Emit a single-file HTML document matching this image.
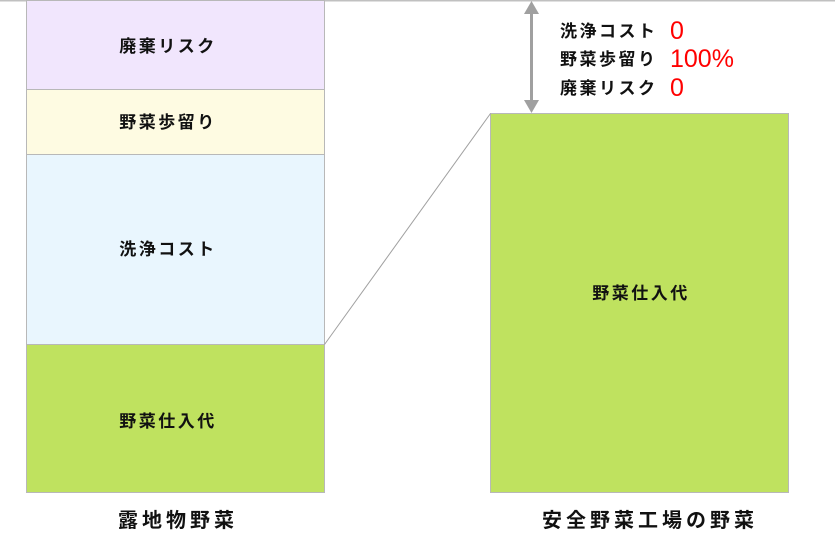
<!DOCTYPE html>
<html><head><meta charset="utf-8"><style>
html,body{margin:0;padding:0;background:#fff}
svg{display:block}
text{font-family:"Liberation Sans","Noto Sans CJK JP",sans-serif;font-weight:bold}
text.r{font-weight:normal}
</style></head><body>
<svg width="835" height="536" viewBox="0 0 835 536" xmlns="http://www.w3.org/2000/svg">
<line x1="0" y1="0.5" x2="835" y2="0.5" stroke="#c0c0c0" stroke-width="2"/>
<rect x="26.5" y="0.5" width="298" height="89" fill="#f1e6fd" stroke="#b8b8b8"/>
<rect x="26.5" y="89.5" width="298" height="65" fill="#fefbe2" stroke="#b8b8b8"/>
<rect x="26.5" y="154.5" width="298" height="190" fill="#e9f6fe" stroke="#b8b8b8"/>
<rect x="26.5" y="344.5" width="298" height="148" fill="#bfe25f" stroke="#b8b8b8"/>
<rect x="490.5" y="113.5" width="298" height="379" fill="#bfe25f" stroke="#b8b8b8"/>
<line x1="324.5" y1="344.5" x2="490.5" y2="113.5" stroke="#a0a0a0" stroke-width="1"/>
<line x1="531.5" y1="12" x2="531.5" y2="102" stroke="#a0a0a0" stroke-width="3"/>
<polygon points="531.5,1 524,14 539,14" fill="#a0a0a0"/>
<polygon points="531.5,113 524,100 539,100" fill="#a0a0a0"/>
<g font-size="17" fill="#111" text-anchor="middle" letter-spacing="2.5">
<text x="168" y="52">廃棄リスク</text>
<text x="168" y="128">野菜歩留り</text>
<text x="168" y="255">洗浄コスト</text>
<text x="168" y="427">野菜仕入代</text>
<text x="641" y="299">野菜仕入代</text>
</g>
<g font-size="17" fill="#111" letter-spacing="2.5">
<text x="560" y="37">洗浄コスト</text>
<text x="560" y="65">野菜歩留り</text>
<text x="560" y="94">廃棄リスク</text>
</g>
<g font-size="25" fill="#ff0000">
<text class="r" x="670" y="39">0</text>
<text class="r" x="670" y="67">100%</text>
<text class="r" x="670" y="96">0</text>
</g>
<g font-size="20" fill="#111" text-anchor="middle" letter-spacing="4">
<text x="178" y="527">露地物野菜</text>
<text x="650" y="527">安全野菜工場の野菜</text>
</g>
</svg>
</body></html>
